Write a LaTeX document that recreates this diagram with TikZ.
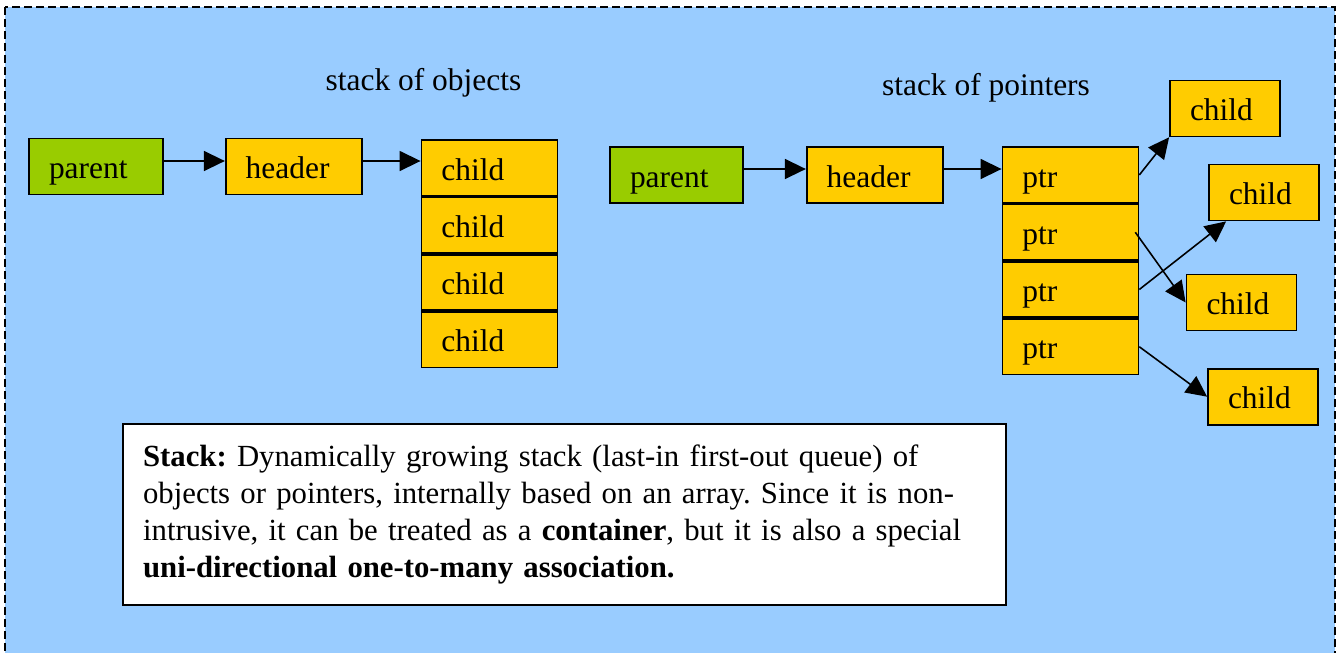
\documentclass[tikz,border=0pt]{standalone}
\usepackage{fontspec}
\setmainfont{Liberation Serif}
\usetikzlibrary{arrows.meta, positioning}
\definecolor{skyblue}{HTML}{99CCFF}
\definecolor{leafgreen}{HTML}{99CC00}
\definecolor{gold}{HTML}{FFCC00}
\frenchspacing

\begin{document}
\begin{tikzpicture}[
    x=0.02cm, y=-0.02cm,
    font=\fontsize{17.9}{20.9}\selectfont,
    box/.style={rectangle, draw, line width=1pt, align=left, inner xsep=0.4cm, inner ysep=0pt, text height=0.48cm, text depth=0pt, minimum height=1.12cm},
    parentbox/.style={box, fill=leafgreen, text width=1.88cm},
    cell/.style={box, fill=gold, text width=1.92cm},
    slot/.style={cell, minimum height=1.11cm},
    leaf/.style={box, fill=gold, text width=1.4cm},
    note/.style={rectangle, draw, fill=white, line width=1pt, align=left, text width=16.86cm, inner xsep=0.4cm, minimum height=3.62cm, font=\fontsize{17.5}{20.9}\selectfont},
    arrow/.style={line width=0.9pt, -{Triangle[length=0.42cm, width=0.4cm]}}
]

% ---------- background ----------
\useasboundingbox (0,0) rectangle (1340,653);
\clip (0,0) rectangle (1340,653);
\draw[fill=skyblue, line width=1.1pt, dash pattern=on 0.16cm off 0.08cm] (5,7) rectangle (1335,670);

% ---------- titles ----------
\node[anchor=base] (objtitle) at (423.5,90) {stack of objects};
\node[anchor=base] (ptrtitle) at (986,95) {stack of pointers};

% ---------- stack of objects ----------
\node[parentbox] (lparent) at (96,166.5) {parent};
\node[cell, right=1.22cm of lparent] (lheader) {header};
\node[slot, right=1.16cm of lheader, yshift=-0.03cm] (lchild1) {child};
\node[slot, below=0pt of lchild1] (lchild2) {child};
\node[slot, below=0pt of lchild2] (lchild3) {child};
\node[slot, below=0pt of lchild3] (lchild4) {child};

\draw[arrow] ([yshift=0.11cm]lparent.east) -- ([yshift=0.11cm]lparent.east -| lheader.west);
\draw[arrow] ([yshift=0.11cm]lheader.east) -- ([yshift=0.11cm]lheader.east -| lchild1.west);

% ---------- stack of pointers ----------
\node[parentbox, text width=1.86cm] (rparent) at (676.5,175) {parent};
\node[cell, right=1.24cm of rparent] (rheader) {header};
\node[slot, right=1.16cm of rheader] (ptr1) {ptr};
\node[slot, below=0pt of ptr1] (ptr2) {ptr};
\node[slot, below=0pt of ptr2] (ptr3) {ptr};
\node[slot, below=0pt of ptr3] (ptr4) {ptr};

% pointed-to children
\node[leaf] (rchild1) at (1225,108.4) {child};
\node[leaf] (rchild2) at (1264,192.5) {child};
\node[leaf] (rchild3) at (1241.5,302.5) {child};
\node[leaf] (rchild4) at (1263,396.7) {child};

\draw[arrow] ([yshift=0.12cm]rparent.east) -- ([yshift=0.12cm]rparent.east -| rheader.west);
\draw[arrow] ([yshift=0.12cm]rheader.east) -- ([yshift=0.12cm]rheader.east -| ptr1.west);
\draw[arrow] (ptr1.east) -- (rchild1.south west);
\draw[arrow] ([xshift=-0.08cm]ptr2.east) -- (rchild3.west);
\draw[arrow] (ptr3.east) -- ([xshift=0.36cm]rchild2.south west);
\draw[arrow] (ptr4.east) -- (rchild4.west);

% ---------- description ----------
\node[note] (desc) at (564.5,514.5) {\textbf{Stack:} Dynamically growing stack (last-in first-out queue) of\\
objects or pointers, internally based on an array. Since it is non-\\
intrusive, it can be treated as a \textbf{container}, but it is also a special\\
\textbf{uni-directional one-to-many association.}};

\end{tikzpicture}
\end{document}
